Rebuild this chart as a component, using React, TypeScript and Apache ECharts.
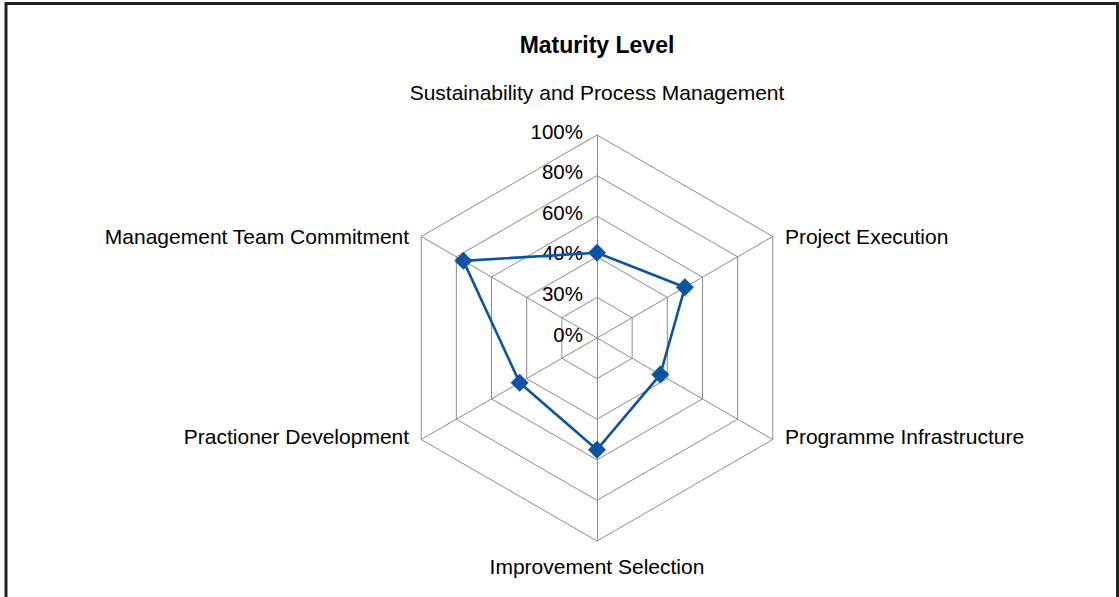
import React, { useEffect, useRef } from "react";
import * as echarts from "echarts";

const titleText = "Maturity Level";
// Indicators in ECharts order (counter-clockwise from the top)
const indicatorNames = [
  "Sustainability and Process Management",
  "Management Team Commitment",
  "Practioner Development",
  "Improvement Selection",
  "Programme Infrastructure",
  "Project Execution",
];
const seriesValues = [42, 76, 44, 55, 36, 50];
const tickValues = [0, 20, 40, 60, 80, 100];
const tickLabels = ["0%", "30%", "40%", "60%", "80%", "100%"];

const FONT = "'Liberation Sans', Arial, Helvetica, sans-serif";
const GRID = "#8c8c8c";
const BLUE = "#0A53A5";

// per-indicator name placement tweaks (index matches indicatorNames)
const namePlacement: Record<number, any> = {
  0: { nameGap: 32 },
  1: { nameTextStyle: { verticalAlign: "top", lineHeight: 14 } },
  2: { nameTextStyle: { verticalAlign: "bottom", lineHeight: 20 } },
  3: { nameGap: 15 },
  4: { nameTextStyle: { verticalAlign: "bottom", lineHeight: 20 } },
  5: { nameTextStyle: { verticalAlign: "top", lineHeight: 14 } },
};

export default function App() {
  const ref = useRef<HTMLDivElement>(null);
  useEffect(() => {
    if (!ref.current) return;
    const chart = echarts.init(ref.current, undefined, { renderer: "svg" });
    chart.setOption({
      animation: false,
      backgroundColor: "#ffffff",
      title: {
        text: titleText,
        left: 597,
        textAlign: "center",
        top: 33,
        padding: 0,
        textStyle: { fontFamily: FONT, fontWeight: "bold", fontSize: 23, color: "#000" },
      },
      graphic: [
        {
          type: "rect",
          shape: { x: 6, y: 3.5, width: 1111.5, height: 700 },
          style: { fill: "none", stroke: "#222", lineWidth: 3 },
          silent: true,
        },
      ],
      radar: {
        center: [597, 338],
        radius: 203,
        startAngle: 90,
        shape: "polygon",
        splitNumber: 5,
        indicator: indicatorNames.map((n, i) => ({
          name: n,
          min: 0,
          max: 100,
          ...(namePlacement[i] || {}),
          ...(i === 0
            ? {
                axisLabel: {
                  show: true,
                  formatter: (v: number) => tickLabels[tickValues.indexOf(Math.round(v))] ?? "",
                },
              }
            : {}),
        })),
        nameGap: 14,
        axisName: { color: "#000", fontFamily: FONT, fontSize: 21 },
        axisLine: { lineStyle: { color: GRID, width: 1 } },
        splitLine: { lineStyle: { color: GRID, width: 1 } },
        splitArea: { show: false },
        axisTick: { show: false },
        axisLabel: {
          show: false,
          color: "#000",
          fontFamily: FONT,
          fontSize: 20.5,
          margin: 14,
          verticalAlign: "bottom",
          lineHeight: 8,
        },
      },
      series: [
        {
          type: "radar",
          symbol: "diamond",
          symbolSize: 18,
          lineStyle: { color: BLUE, width: 2.6 },
          itemStyle: { color: BLUE },
          data: [{ value: seriesValues, name: titleText }],
        },
      ],
    });
    return () => chart.dispose();
  }, []);
  return (
    <div
      ref={ref}
      style={{ position: "fixed", left: 0, top: 0, width: 1119, height: 597 }}
    />
  );
}
